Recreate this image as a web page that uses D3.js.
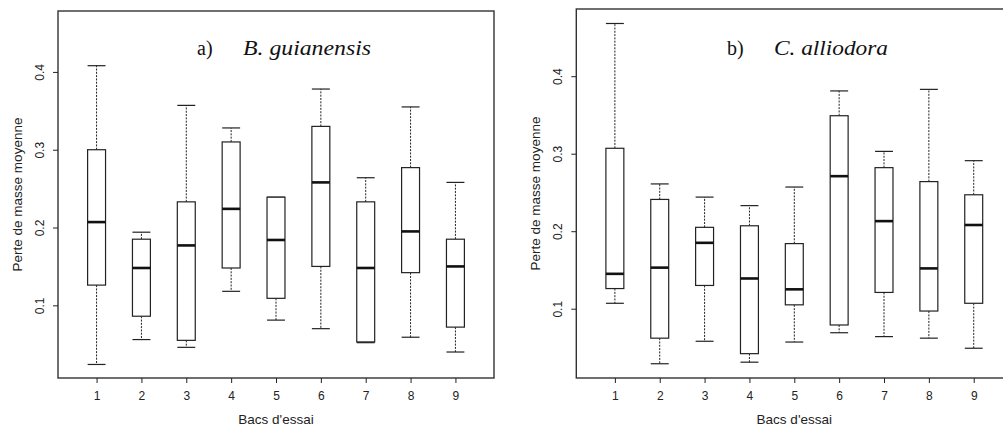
<!DOCTYPE html>
<html>
<head>
<meta charset="utf-8">
<script src="https://cdn.jsdelivr.net/npm/d3@7"></script>
<style>
  body { margin: 0; background: #fff; }
  svg { display: block; }
</style>
</head>
<body>
<svg id="chart" width="1003" height="428"></svg>
<script>
// ---- Data ----
const categories = [1, 2, 3, 4, 5, 6, 7, 8, 9];
const yTicks = [0.1, 0.2, 0.3, 0.4];

// Panel a) B. guianensis
const aLow    = [0.024, 0.056, 0.046, 0.118, 0.081, 0.070, 0.052, 0.059, 0.040];
const aQ1     = [0.126, 0.086, 0.055, 0.148, 0.109, 0.150, 0.053, 0.142, 0.072];
const aMedian = [0.207, 0.148, 0.177, 0.224, 0.184, 0.258, 0.148, 0.195, 0.150];
const aQ3     = [0.300, 0.185, 0.233, 0.310, 0.239, 0.330, 0.233, 0.277, 0.185];
const aHigh   = [0.408, 0.194, 0.357, 0.328, 0.239, 0.378, 0.264, 0.355, 0.258];

// Panel b) C. alliodora
const bLow    = [0.107, 0.029, 0.058, 0.031, 0.057, 0.069, 0.064, 0.062, 0.049];
const bQ1     = [0.126, 0.062, 0.130, 0.042, 0.105, 0.079, 0.121, 0.097, 0.107];
const bMedian = [0.145, 0.153, 0.185, 0.139, 0.125, 0.271, 0.213, 0.152, 0.208];
const bQ3     = [0.307, 0.241, 0.205, 0.207, 0.184, 0.349, 0.282, 0.264, 0.247];
const bHigh   = [0.468, 0.261, 0.244, 0.233, 0.257, 0.381, 0.303, 0.383, 0.291];

const xLabel = "Bacs d'essai";
const yLabel = "Perte de masse moyenne";

const svg = d3.select("#chart");
const sans = "'Liberation Sans', Arial, sans-serif";
const serif = "'Liberation Serif', 'Times New Roman', serif";

function panel(opts) {
  const { left, right, top, bottom, yDomain, low, q1, med, q3, high, tag, species } = opts;
  const g = svg.append("g");
  const x = d3.scaleLinear().domain([0.14, 9.86]).range([left, right]);
  const y = d3.scaleLinear().domain(yDomain).range([bottom, top]);
  const boxW = x(1.4) - x(1);      // 0.8 wide box
  const capW = x(1.2) - x(1);      // 0.4 wide whisker cap

  const rows = categories.map((c, i) => ({ c, lo: low[i], q1: q1[i], md: med[i], q3: q3[i], hi: high[i] }));

  const bx = g.selectAll("g.box").data(rows).enter().append("g").attr("class", "box");
  // whiskers (dotted)
  bx.append("line")
    .attr("x1", d => x(d.c)).attr("x2", d => x(d.c))
    .attr("y1", d => y(d.q3)).attr("y2", d => y(d.hi))
    .attr("stroke", "#222").attr("stroke-width", 1).attr("stroke-dasharray", "2,1.3");
  bx.append("line")
    .attr("x1", d => x(d.c)).attr("x2", d => x(d.c))
    .attr("y1", d => y(d.q1)).attr("y2", d => y(d.lo))
    .attr("stroke", "#222").attr("stroke-width", 1).attr("stroke-dasharray", "2,1.3");
  // caps
  bx.append("line")
    .attr("x1", d => x(d.c) - capW).attr("x2", d => x(d.c) + capW)
    .attr("y1", d => y(d.hi)).attr("y2", d => y(d.hi))
    .attr("stroke", "#222").attr("stroke-width", 1.2);
  bx.append("line")
    .attr("x1", d => x(d.c) - capW).attr("x2", d => x(d.c) + capW)
    .attr("y1", d => y(d.lo)).attr("y2", d => y(d.lo))
    .attr("stroke", "#222").attr("stroke-width", 1.2);
  // box
  bx.append("rect")
    .attr("x", d => x(d.c) - boxW / 2).attr("width", boxW)
    .attr("y", d => y(d.q3)).attr("height", d => y(d.q1) - y(d.q3))
    .attr("fill", "#fff").attr("stroke", "#222").attr("stroke-width", 1.2);
  // median
  bx.append("line")
    .attr("x1", d => x(d.c) - boxW / 2).attr("x2", d => x(d.c) + boxW / 2)
    .attr("y1", d => y(d.md)).attr("y2", d => y(d.md))
    .attr("stroke", "#111").attr("stroke-width", 2.6);

  // frame
  g.append("rect")
    .attr("x", left).attr("y", top)
    .attr("width", right - left).attr("height", bottom - top)
    .attr("fill", "none").attr("stroke", "#333").attr("stroke-width", 1.4);

  // y axis
  const ya = g.append("g").attr("transform", `translate(${left},0)`)
    .call(d3.axisLeft(y).tickValues(yTicks).tickSize(5).tickPadding(0).tickFormat(d3.format(".1f")));
  ya.select(".domain").remove();
  ya.selectAll(".tick line").attr("stroke", "#222").attr("stroke-width", 1);
  ya.selectAll(".tick text")
    .attr("x", null).attr("dy", null)
    .attr("transform", "translate(-14,0) rotate(-90)")
    .attr("text-anchor", "middle")
    .attr("dy", "0em")
    .style("font-family", sans).style("font-size", "12px").attr("fill", "#222");

  // x axis
  const xa = g.append("g").attr("transform", `translate(0,${bottom})`)
    .call(d3.axisBottom(x).tickValues(categories).tickSize(5).tickPadding(8).tickFormat(d3.format("d")));
  xa.select(".domain").remove();
  xa.selectAll(".tick line").attr("stroke", "#222").attr("stroke-width", 1);
  xa.selectAll(".tick text").style("font-family", sans).style("font-size", "12px").attr("fill", "#222");

  // axis labels
  g.append("text")
    .attr("x", x(5))
    .attr("y", bottom + 46)
    .attr("text-anchor", "middle")
    .style("font-family", sans).style("font-size", "13.5px").attr("fill", "#222")
    .text(xLabel);
  g.append("text")
    .attr("transform", `translate(${left - 36},${(top + bottom) / 2}) rotate(-90)`)
    .attr("text-anchor", "middle")
    .style("font-family", sans).style("font-size", "13.5px").attr("fill", "#222")
    .text(yLabel);

  // title
  g.append("text")
    .attr("x", opts.titleX).attr("y", opts.titleY)
    .style("font-family", serif).style("font-size", "20px").attr("fill", "#111")
    .text(tag);
  g.append("text")
    .attr("x", opts.speciesX).attr("y", opts.titleY)
    .attr("textLength", opts.speciesW).attr("lengthAdjust", "spacingAndGlyphs")
    .style("font-family", serif).style("font-size", "20px").style("font-style", "italic").attr("fill", "#111")
    .text(species);
}

panel({
  left: 58, right: 494, top: 11, bottom: 378, yDomain: [0.0066, 0.4783],
  low: aLow, q1: aQ1, med: aMedian, q3: aQ3, high: aHigh,
  tag: "a)", species: "B. guianensis", titleX: 197, titleY: 55, speciesX: 243, speciesW: 128
});
panel({
  left: 576.3, right: 1012.3, top: 9, bottom: 378, yDomain: [0.0106, 0.4867],
  low: bLow, q1: bQ1, med: bMedian, q3: bQ3, high: bHigh,
  tag: "b)", species: "C. alliodora", titleX: 727, titleY: 55, speciesX: 774, speciesW: 114
});
</script>
</body>
</html>
